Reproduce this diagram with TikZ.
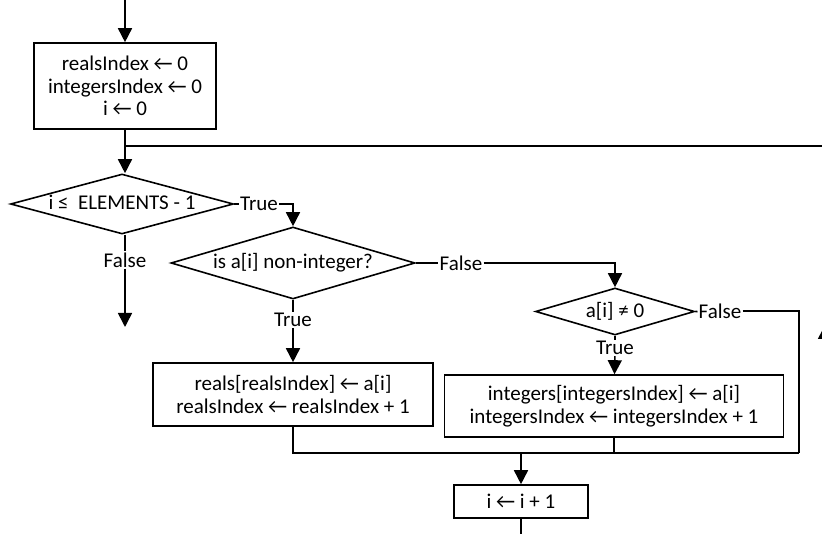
\documentclass[tikz,border=0pt]{standalone}
\usepackage{fontspec}
\setmainfont{Carlito}
\usetikzlibrary{positioning,arrows.meta,shapes.geometric}
\newcommand{\fs}{\fontsize{21}{22.5}\selectfont}
\tikzset{
  blk/.style ={draw, line width=1.6pt, align=center, inner sep=0pt, font=\fs},
  dec/.style ={draw, diamond, line width=1.6pt, inner sep=0pt, text height=12pt,
               text depth=0pt, aspect=3.5, font=\fs},
  lbl/.style ={inner sep=1pt, font=\fs},
  ar/.style  ={-{Triangle[length=14pt,width=14pt]}, line width=1.6pt},
  ln/.style  ={line width=1.6pt},
}

\begin{document}
\begin{tikzpicture}[x=1pt,y=-1pt]
\useasboundingbox (0,0) rectangle (822,534);
\clip (0,0) rectangle (822,534);
% blocks
\node[blk,minimum width=182pt,minimum height=86pt] (init) at (125,86)
  {realsIndex ← 0\\ integersIndex ← 0\\ i ← 0};
\node[dec,minimum width=223pt,minimum height=60pt] (cond) at (122,204) {i ≤\ \ ELEMENTS - 1};
\node[dec,minimum width=244pt,minimum height=72pt] (isreal) at (293,263) {is a[i] non-integer?};
\node[dec,minimum width=159pt,minimum height=47pt] (nz) at (615,311.5) {a[i] ≠ 0};
\node[blk,minimum width=280pt,minimum height=63pt] (real) at (293,394.5)
  {reals[realsIndex] ← a[i]\\ realsIndex ← realsIndex + 1};
\node[blk,minimum width=339pt,minimum height=62pt] (int) at (614,406)
  {integers[integersIndex] ← a[i]\\ integersIndex ← integersIndex + 1};
\node[blk,minimum width=134pt,minimum height=33pt] (inc) at (521,501.5) {i ← i + 1};
% labels
\node[lbl] (condT) at (259,204) {True};
\node[lbl] (condF) at (125,260) {False};
\node[lbl] (isrealF) at (461,263) {False};
\node[lbl] (isrealT) at (293,320) {True};
\node[lbl] (nzF) at (720,311) {False};
\node[lbl] (nzT) at (615,348) {True};
% free ends
\coordinate (start) at (125,-5);
\coordinate (jn) at (125,146);
\coordinate (stop) at (125,327);
\coordinate (mrg) at (521,453);
\coordinate (mR) at (799,453);
\coordinate (loopR) at (825,146);
\coordinate (loopB) at (825,570);
\coordinate (loopA) at (825,325);
% connectors
\draw[ar] (start) -- (init);
\draw[ln] (init) -- (jn);
\draw[ar] (jn) -- (jn |- cond.north);
\draw[ln] (cond.east) -- (condT);
\draw[ar] (condT) -| (isreal);
\draw[ln] (cond.south -| jn) -- (condF);
\draw[ar] (condF) -- (stop);
\draw[ln] (isreal.east) -- (isrealF);
\draw[ar] (isrealF) -| (nz);
\draw[ln] (isreal) -- (isrealT);
\draw[ar] (isrealT) -- (real);
\draw[ln] (nz.east) -- (nzF);
\draw[ln] (nzF) -| (mR);
\draw[ln] (nz) -- (nzT);
\draw[ar] (nzT) -- (int);
\draw[ln] (real) |- (mR);
\draw[ln] (int) -- (int.south |- mrg);
\draw[ar] (mrg) -- (inc);
\draw[ln] (inc) |- (loopB) -- (loopR) -- (jn);
\draw[ar] (loopB) -- (loopA);
\end{tikzpicture}
\end{document}
